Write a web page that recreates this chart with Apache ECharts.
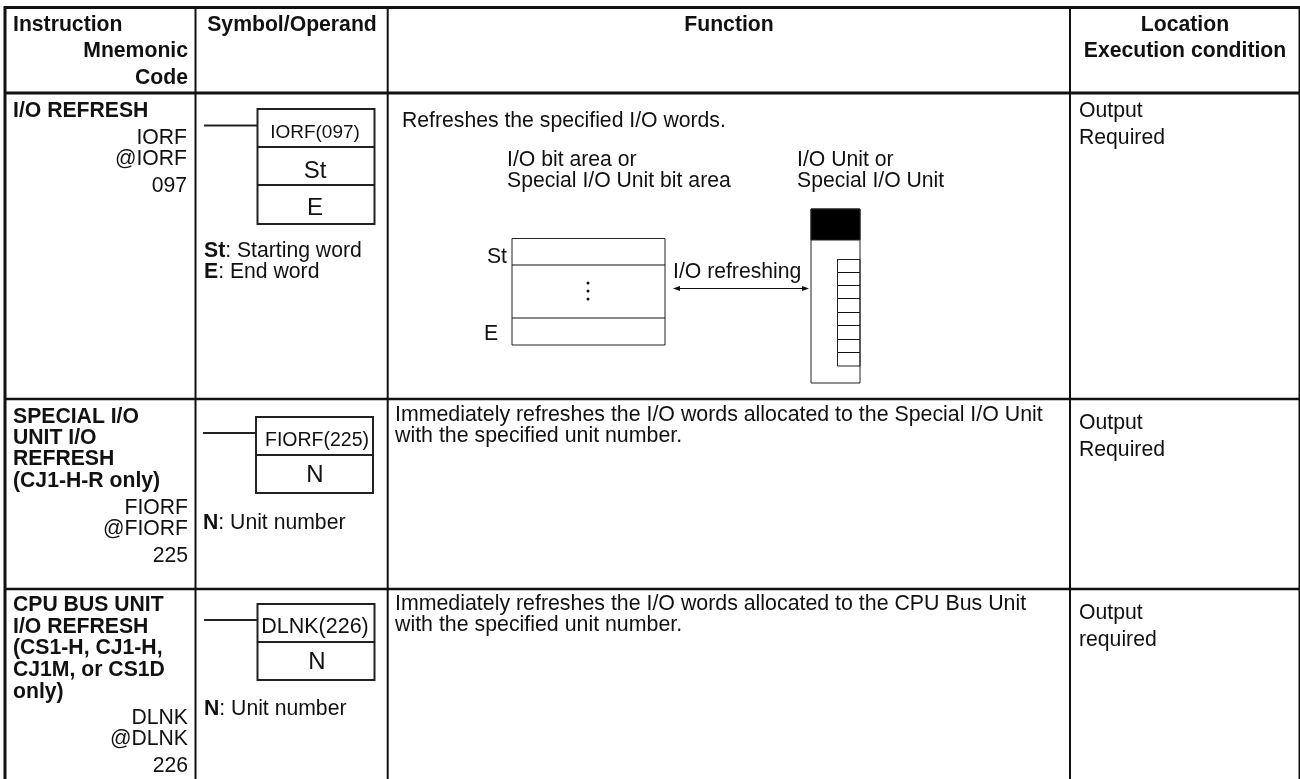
<!DOCTYPE html>
<html>
<head>
<meta charset="utf-8">
<script src="https://cdn.jsdelivr.net/npm/echarts@6/dist/echarts.min.js"></script>
<style>
html, body { margin: 0; padding: 0; background: #fff; }
#chart { width: 1300px; height: 779px; }
</style>
</head>
<body>
<div id="chart"></div>
<script>
// table text
const headerTitles = ["Symbol/Operand", "Function"];
const headerFirst = ["Instruction", "Mnemonic", "Code"];
const headerLast = ["Location", "Execution condition"];

const row1Name = ["I/O REFRESH"];
const row1Codes = ["IORF", "@IORF", "097"];
const row1Box = ["IORF(097)", "St", "E"];
const row1Operands = [["St", ": Starting word"], ["E", ": End word"]];
const row1Function = ["Refreshes the specified I/O words."];
const row1Left = ["I/O bit area or", "Special I/O Unit bit area"];
const row1Right = ["I/O Unit or", "Special I/O Unit"];
const row1Labels = ["St", "E", "I/O refreshing"];
const row1Cond = ["Output", "Required"];

const row2Name = ["SPECIAL I/O", "UNIT I/O", "REFRESH", "(CJ1-H-R only)"];
const row2Codes = ["FIORF", "@FIORF", "225"];
const row2Box = ["FIORF(225)", "N"];
const row2Operands = [["N", ": Unit number"]];
const row2Function = ["Immediately refreshes the I/O words allocated to the Special I/O Unit", "with the specified unit number."];
const row2Cond = ["Output", "Required"];

const row3Name = ["CPU BUS UNIT", "I/O REFRESH", "(CS1-H, CJ1-H,", "CJ1M, or CS1D", "only)"];
const row3Codes = ["DLNK", "@DLNK", "226"];
const row3Box = ["DLNK(226)", "N"];
const row3Operands = [["N", ": Unit number"]];
const row3Function = ["Immediately refreshes the I/O words allocated to the CPU Bus Unit", "with the specified unit number."];
const row3Cond = ["Output", "required"];

const FONT = '"Liberation Sans", Arial, sans-serif';
const INK = "#111";
const SIZE = 21.2;
const els = [];

function text(str, x, y, opt) {
    opt = opt || {};
    els.push({
        type: "text", x: x, y: y + 1, silent: true,
        style: {
            text: str,
            fill: INK,
            font: (opt.bold ? "bold " : "") + (opt.size || SIZE) + "px " + FONT,
            align: opt.align || "left",
            verticalAlign: "middle",
        },
    });
}
function line(x1, y1, x2, y2, w, color) {
    els.push({
        type: "line", silent: true,
        shape: { x1: x1, y1: y1, x2: x2, y2: y2 },
        style: { stroke: color || "#111", lineWidth: w },
    });
}
function rect(x, y, w, h, lw, fill) {
    els.push({
        type: "rect", silent: true,
        shape: { x: x, y: y, width: w, height: h },
        style: { fill: fill || "none", stroke: "#222", lineWidth: lw },
    });
}
// bold operand letter + normal description
function operand(pair, x, y) {
    els.push({
        type: "text", x: x, y: y + 1, silent: true,
        style: {
            text: "{b|" + pair[0] + "}{n|" + pair[1] + "}",
            verticalAlign: "middle",
            rich: {
                b: { font: "bold " + SIZE + "px " + FONT, fill: INK },
                n: { font: SIZE + "px " + FONT, fill: INK },
            },
        },
    });
}
function column(list, x, ys, opt) {
    list.forEach(function (s, i) { text(s, x, ys[i], opt); });
}
// ladder symbol: lead line, box, dividers
function symbol(x, top, bottom, lineX, lineY, dividers) {
    line(lineX, lineY, x, lineY, 2, "#222");
    rect(x, top, 117, bottom - top, 2);
    dividers.forEach(function (d) { line(x, d, x + 117, d, 2, "#222"); });
}

// grid, the table runs off the bottom of the page
line(4, 7.5, 1300, 7.5, 3);
line(4, 93, 1300, 93, 3);
line(4, 399, 1300, 399, 2.4);
line(4, 589, 1300, 589, 2.4);
line(5, 6, 5, 779, 3);
line(195.5, 7, 195.5, 779, 2);
line(387.7, 7, 387.7, 779, 2);
line(1070, 7, 1070, 779, 2);
line(1299.5, 6, 1299.5, 779, 2);

// header
text(headerFirst[0], 13, 24, { bold: true });
text(headerFirst[1], 188, 50, { bold: true, align: "right" });
text(headerFirst[2], 188, 77, { bold: true, align: "right" });
text(headerTitles[0], 292, 24, { bold: true, align: "center" });
text(headerTitles[1], 729, 24, { bold: true, align: "center" });
text(headerLast[0], 1185, 24, { bold: true, align: "center" });
text(headerLast[1], 1185, 50, { bold: true, align: "center" });

// row 1
column(row1Name, 13, [110], { bold: true });
column(row1Codes, 187, [137, 158, 185], { align: "right" });
symbol(257.5, 109, 224, 204, 125.5, [147, 185]);
text(row1Box[0], 315, 132, { align: "center", size: 19 });
text(row1Box[1], 315, 170, { align: "center", size: 24 });
text(row1Box[2], 315, 207, { align: "center", size: 24 });
operand(row1Operands[0], 204, 250);
operand(row1Operands[1], 204, 271);
column(row1Function, 402, [120]);
column(row1Left, 507, [159, 180]);
column(row1Right, 797, [159, 180]);
rect(512, 238.5, 153, 106.5, 1);
line(512, 265, 665, 265, 1);
line(512, 318, 665, 318, 1);
[283, 291, 299].forEach(function (y) {
    els.push({ type: "circle", silent: true, shape: { cx: 588, cy: y, r: 1.5 }, style: { fill: "#111" } });
});
text(row1Labels[0], 507, 256, { align: "right" });
text(row1Labels[1], 484, 333);
text(row1Labels[2], 673, 271);
line(676, 288.5, 806, 288.5, 1);
els.push({ type: "polygon", silent: true, shape: { points: [[673, 288.5], [680, 286], [680, 291]] }, style: { fill: "#111" } });
els.push({ type: "polygon", silent: true, shape: { points: [[809, 288.5], [802, 286], [802, 291]] }, style: { fill: "#111" } });
rect(811, 209, 49, 174, 1);
rect(811, 209, 49, 31, 1, "#000");
[259, 272, 285, 298, 312, 325, 339, 352].forEach(function (y) { line(837, y + 0.5, 860, y + 0.5, 1); });
rect(837.5, 259.5, 22.5, 106.5, 1);
column(row1Cond, 1079, [110, 137]);

// row 2
column(row2Name, 13, [416, 437, 458, 480], { bold: true });
column(row2Codes, 188, [507, 528, 555], { align: "right" });
symbol(256, 417, 493, 203, 433, [455]);
text(row2Box[0], 317, 440, { align: "center", size: 19.5 });
text(row2Box[1], 315, 474, { align: "center", size: 24 });
operand(row2Operands[0], 203, 522);
column(row2Function, 395, [414, 435], { size: 21.35 });
column(row2Cond, 1079, [422, 449]);

// row 3
column(row3Name, 13, [604, 626, 647, 669, 691], { bold: true });
column(row3Codes, 188, [717, 738, 765], { align: "right" });
symbol(257.5, 604, 680, 204, 620, [642]);
text(row3Box[0], 315, 626, { align: "center", size: 21.5 });
text(row3Box[1], 317, 661, { align: "center", size: 24 });
operand(row3Operands[0], 204, 708);
column(row3Function, 395, [603, 624], { size: 21.35 });
column(row3Cond, 1079, [612, 639]);

const chart = echarts.init(document.getElementById("chart"), null, { renderer: "canvas" });
chart.setOption({
    animation: false,
    backgroundColor: "#fff",
    graphic: { elements: els },
});
</script>
</body>
</html>
